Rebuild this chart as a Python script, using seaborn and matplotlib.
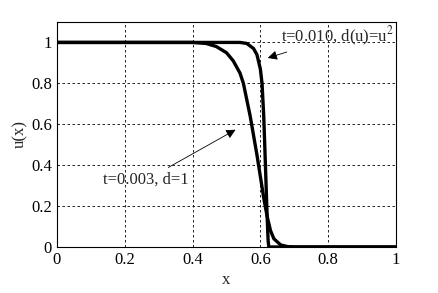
import matplotlib
matplotlib.use("Agg")
import matplotlib.pyplot as plt
import pandas as pd
import seaborn as sns

# d = 1, t = 0.003 (smooth front)
x_lin = [0.0, 0.40, 0.44, 0.47, 0.50, 0.52, 0.54, 0.55, 0.57, 0.59, 0.61, 0.62, 0.63, 0.64, 0.66, 0.68, 0.70, 1.0]
u_lin = [1.0, 1.0, 0.995, 0.98, 0.95, 0.91, 0.85, 0.80, 0.64, 0.45, 0.24, 0.15, 0.08, 0.04, 0.01, 0.002, 0.0, 0.0]

# d(u) = u^2, t = 0.010 (sharp front)
x_nl = [0.0, 0.54, 0.56, 0.58, 0.59, 0.60, 0.605, 0.61, 0.615, 0.62, 0.623, 0.625, 1.0]
u_nl = [1.0, 1.0, 0.995, 0.97, 0.94, 0.87, 0.80, 0.64, 0.40, 0.15, 0.03, 0.0, 0.0]

df = pd.concat([
    pd.DataFrame({"x": x_lin, "u": u_lin, "case": "lin"}),
    pd.DataFrame({"x": x_nl, "u": u_nl, "case": "nl"}),
])

sns.set_style("white")
plt.rcParams["font.family"] = ["Liberation Serif", "DejaVu Serif"]
plt.rcParams["mathtext.fontset"] = "stix"

fig = plt.figure(figsize=(4.38, 2.93), dpi=100)
ax = fig.add_axes([0.130, 0.157, 0.774, 0.768])

for c in ["lin", "nl"]:
    sns.lineplot(data=df[df["case"] == c], x="x", y="u", color="black",
                 linewidth=2.4, ax=ax, legend=False)

ax.set_xlim(0, 1)
ax.set_ylim(0, 1.1)
ax.set_xticks([0, 0.2, 0.4, 0.6, 0.8, 1])
ax.set_xticklabels(["0", "0.2", "0.4", "0.6", "0.8", "1"])
ax.set_yticks([0, 0.2, 0.4, 0.6, 0.8, 1])
ax.set_yticklabels(["0", "0.2", "0.4", "0.6", "0.8", "1"])
ax.tick_params(direction="in", length=3, labelsize=12, color="black", labelcolor="black")
ax.grid(True, linestyle=(0, (3, 3)), color="black", linewidth=0.6)
for s in ax.spines.values():
    s.set_color("black")
    s.set_linewidth(0.8)
ax.set_xlabel("x", fontsize=12, labelpad=3)
ax.set_ylabel("u(x)", fontsize=12, labelpad=2)

arrow = dict(arrowstyle="-|>", color="black", linewidth=0.6, mutation_scale=14)
ax.annotate("t=0.010, d(u)=u$^2$", xy=(0.614, 0.92), xytext=(0.66, 1.03),
            fontsize=12, ha="left", va="center", arrowprops=arrow)
ax.annotate("t=0.003, d=1", xy=(0.534, 0.58), xytext=(0.136, 0.327),
            fontsize=12, ha="left", va="center", arrowprops=arrow)

fig.savefig("out.png", dpi=100)
